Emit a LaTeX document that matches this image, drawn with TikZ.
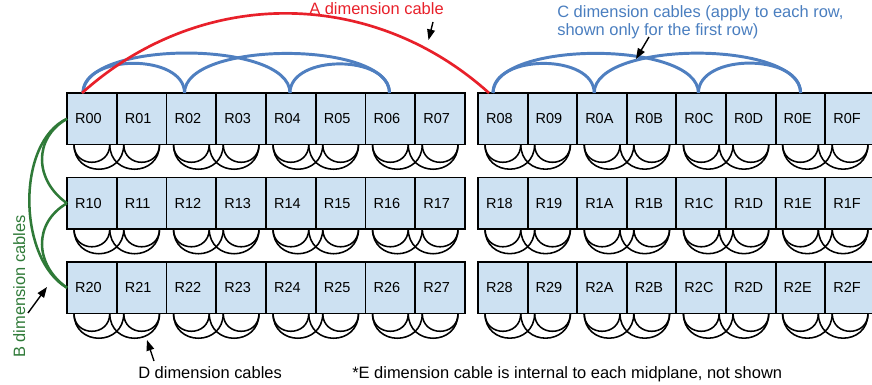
\documentclass[tikz,border=0pt]{standalone}
\usepackage{fontspec}
\setmainfont{Liberation Sans}
\usepackage{tikz}
\usetikzlibrary{arrows.meta,calc}
\definecolor{cableA}{HTML}{E8202A}
\definecolor{cableB}{HTML}{2F7A38}
\definecolor{cableC}{HTML}{4F7FC0}
\definecolor{labelC}{HTML}{4A7EBF}
\definecolor{midFill}{HTML}{CDE1F2}

\begin{document}
\begin{tikzpicture}[
  x=0.025cm, y=0.025cm,
  font=\fontsize{11.7}{12.4}\selectfont,
  mid/.style={draw=black,line width=1.3pt,fill=midFill,outer sep=0pt,
    minimum width=1.24375cm,minimum height=1.2875cm,inner xsep=0.2cm,
    text width=0.84cm,align=left,font=\fontsize{10.3}{12}\selectfont},
  acable/.style={draw=cableA,line width=1.9pt},
  bcable/.style={draw=cableB,line width=1.8pt},
  ccable/.style={draw=cableC,line width=2.1pt},
  dcable/.style={draw=black,line width=1.1pt},
  ptr/.style={-{Triangle[length=7.5pt,width=5.5pt]},line width=1pt}
]
\useasboundingbox (0,0) rectangle (872,-385);

% midplanes, three rows of sixteen in two halves
\foreach \r/\y in {0/-93,1/-177.5,2/-262}{
  \foreach \h [count=\i from 0] in {0,1,2,3,4,5,6,7,8,9,A,B,C,D,E,F}{
    \pgfmathsetmacro{\x}{\i<8 ? 67+49.75*\i : 478+49.6*(\i-8)}
    \node[mid,anchor=north west] (R\r\h) at (\x,\y) {R\r\h};
  }
}

% D cables under every pair
\foreach \r in {0,1,2}{
  \foreach \h/\k in {0/1,2/3,4/5,6/7,8/9,A/B,C/D,E/F}{
    \coordinate (d1) at ($(R\r\h.south west)+(7,0)$);
    \coordinate (d2) at ($(R\r\h.south east)+(-7,0)$);
    \coordinate (d3) at ($(R\r\k.south west)+(7,0)$);
    \coordinate (d4) at ($(R\r\k.south east)+(-7,0)$);
    \draw[dcable] (d1) to[out=-90,in=-90,looseness=1.7] (d2);
    \draw[dcable] (d3) to[out=-90,in=-90,looseness=1.7] (d4);
    \draw[dcable] (d1) to[out=-90,in=-90,looseness=1.7] (d3);
    \draw[dcable] (d2) to[out=-90,in=-90,looseness=1.7] (d4);
  }
}

% C cables, first row only
\foreach \h/\dx in {0/16,2/18,4/24,6/24,8/15,A/17,C/22,E/25}
  \coordinate (c\h) at ($(R0\h.north west)+(\dx,0)$);
\draw[ccable] (c0) to[out=90,in=90] (c2);
\draw[ccable] (c4) to[out=90,in=90] (c6);
\draw[ccable] (c0) to[out=90,in=90,looseness=0.66] (c4);
\draw[ccable] (c2) to[out=90,in=90,looseness=0.66] (c6);
\draw[ccable] (c8) to[out=90,in=90] (cA);
\draw[ccable] (cC) to[out=90,in=90] (cE);
\draw[ccable] (c8) to[out=90,in=90,looseness=0.66] (cC);
\draw[ccable] (cA) to[out=90,in=90,looseness=0.66] (cE);

% A cable between the halves
\coordinate (a0) at ($(R00.north west)+(15,0)$);
\coordinate (a8) at ($(R08.north west)+(11,0)$);
\draw[acable] (a0) to[out=42,in=138] (a8);

% B cables down the first column
\draw[bcable] (R00.west) to[out=210,in=145,looseness=1.2] (R10.west);
\draw[bcable] (R10.west) to[out=210,in=145,looseness=1.2] (R20.west);
\draw[bcable] (R00.west) to[out=205,in=150,looseness=0.86] (R20.west);

% labels
\node[text=cableA,anchor=base west,inner sep=0] (alabel) at (309,-15) {A dimension cable};
\node[text=labelC,anchor=north west,align=left,inner sep=0] (clabel) at (557,-5.5)
  {C dimension cables (apply to each row,\\shown only for the first row)};
\node[text=cableB,rotate=90,anchor=base,inner sep=0] (blabel) at (25,-286.5) {B dimension cables};
\node[anchor=base west,inner sep=0] (dlabel) at (138,-378) {D dimension cables};
\node[anchor=base west,inner sep=0] (enote) at (352,-378)
  {*E dimension cable is internal to each midplane, not shown};

% pointers
\coordinate (atail) at (433,-22);  \coordinate (ahead) at (428.5,-40);
\coordinate (ctail) at (649,-37);  \coordinate (chead) at (636,-59);
\coordinate (btail) at (28,-313);  \coordinate (bhead) at (47,-287);
\coordinate (dtail) at (154,-361); \coordinate (dhead) at (147,-340);
\draw[ptr] (atail) -- (ahead);
\draw[ptr] (ctail) -- (chead);
\draw[ptr] (btail) -- (bhead);
\draw[ptr] (dtail) -- (dhead);
\end{tikzpicture}
\end{document}
